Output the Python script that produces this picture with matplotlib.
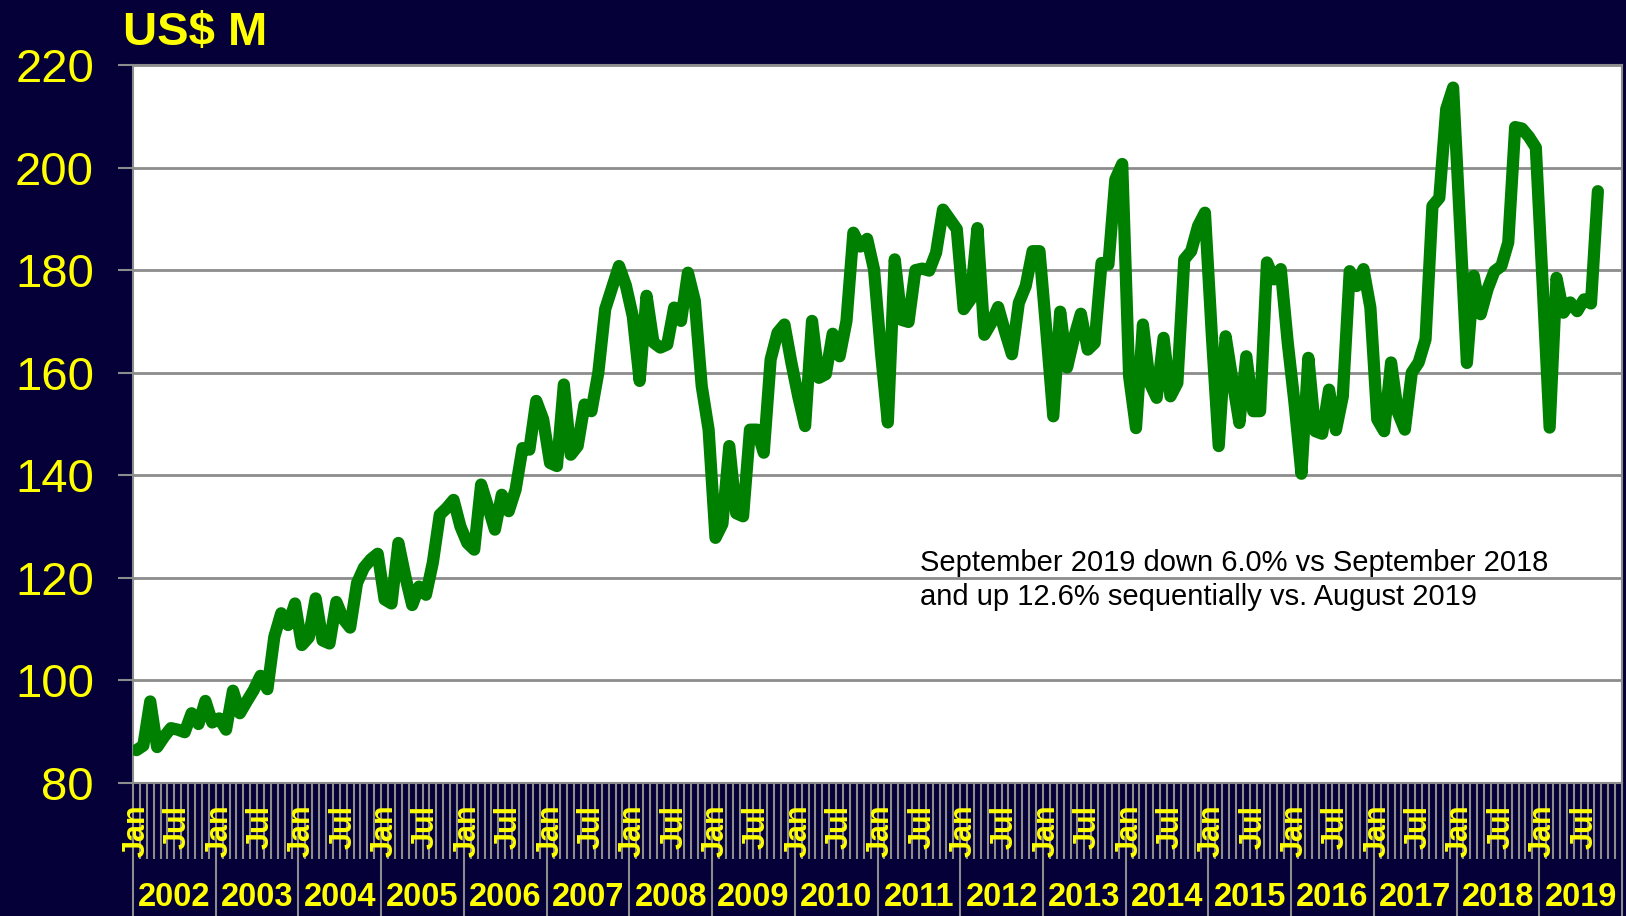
import matplotlib
matplotlib.use("Agg")
import matplotlib.pyplot as plt
import matplotlib.transforms as mtransforms

plt.rcParams['font.family'] = ['Liberation Sans', 'DejaVu Sans']

# Monthly values, US$ M, Jan 2002 .. Sep 2019
v2002 = [86.4, 87.3, 95.9, 87.0, 89.0, 90.7, 90.4, 89.9, 93.6, 91.5, 96.0, 91.8]
v2003 = [92.6, 90.4, 98.0, 93.6, 95.9, 98.1, 100.9, 98.3, 108.5, 113.1, 110.8, 115.0]
v2004 = [106.9, 108.4, 116.0, 107.8, 107.2, 115.3, 112.0, 110.3, 119.0, 122.0, 123.6, 124.7]
v2005 = [115.8, 115.0, 126.8, 120.3, 114.7, 118.3, 116.7, 123.0, 132.3, 133.6, 135.2, 130.0]
v2006 = [126.8, 125.5, 138.2, 133.9, 129.4, 136.2, 133.0, 137.2, 145.3, 145.0, 154.5, 150.9]
v2007 = [142.4, 141.8, 157.7, 144.0, 145.7, 153.8, 152.5, 160.0, 172.4, 176.6, 180.8, 177.0]
v2008 = [171.0, 158.4, 175.0, 165.9, 164.9, 165.5, 172.7, 170.1, 179.5, 174.0, 157.4, 148.9]
v2009 = [127.8, 130.5, 145.7, 132.6, 132.0, 148.9, 148.9, 144.4, 162.6, 167.8, 169.4, 162.0]
v2010 = [155.4, 149.6, 170.1, 159.0, 159.7, 167.6, 163.2, 170.1, 187.3, 184.6, 186.1, 180.1]
v2011 = [164.0, 150.3, 182.1, 170.3, 169.9, 180.0, 180.3, 179.9, 183.4, 191.8, 189.9, 188.0]
v2012 = [172.4, 174.3, 188.2, 167.4, 169.7, 172.8, 168.0, 163.6, 173.6, 176.9, 183.7, 183.7]
v2013 = [168.0, 151.5, 171.9, 161.0, 166.8, 171.5, 164.5, 165.8, 181.4, 181.1, 197.7, 200.7]
v2014 = [159.3, 149.2, 169.4, 158.0, 155.1, 166.8, 155.4, 158.0, 182.1, 183.7, 188.6, 191.2]
v2015 = [167.3, 145.7, 167.1, 158.5, 150.2, 163.2, 152.5, 152.5, 181.5, 178.2, 180.2, 166.0]
v2016 = [154.0, 140.3, 162.9, 148.6, 148.1, 156.7, 148.8, 155.4, 179.8, 176.9, 180.2, 172.7]
v2017 = [150.9, 148.6, 162.0, 152.2, 148.9, 160.0, 162.0, 166.5, 192.5, 194.1, 211.4, 215.6]
v2018 = [189.0, 161.9, 178.9, 171.4, 176.3, 179.8, 180.8, 185.4, 207.9, 207.6, 206.0, 203.9]
v2019 = [177.0, 149.3, 178.5, 171.7, 173.7, 172.0, 174.3, 173.5, 195.4]

years = [2002, 2003, 2004, 2005, 2006, 2007, 2008, 2009, 2010,
         2011, 2012, 2013, 2014, 2015, 2016, 2017, 2018, 2019]
month_labels = {0: 'Jan', 6: 'Jul'}
y_ticks = [80, 100, 120, 140, 160, 180, 200, 220]

values = (v2002 + v2003 + v2004 + v2005 + v2006 + v2007 + v2008 + v2009 + v2010
          + v2011 + v2012 + v2013 + v2014 + v2015 + v2016 + v2017 + v2018 + v2019)
n_slots = 12 * len(years)
xpos = [i + 0.5 for i in range(len(values))]

bg = '#050038'
yellow = '#FFFF00'
gray = '#8c8c8c'

fig = plt.figure(figsize=(16.26, 9.16), dpi=100, facecolor=bg)
ax = fig.add_axes([133 / 1626, 133 / 916, 1489 / 1626, 718 / 916])
ax.set_facecolor('white')

ax.plot(xpos, values, color='#008000', linewidth=8.8, solid_joinstyle='round',
        solid_capstyle='round', zorder=3)

ax.set_xlim(0, n_slots)
ax.set_ylim(80, 220)
ax.set_yticks(y_ticks)
ax.yaxis.grid(True, color=gray, linewidth=2)
ax.set_axisbelow(True)
ax.tick_params(axis='y', length=11, width=1.5, color=gray, labelsize=34,
               labelcolor=yellow, pad=17)

# month boundary ticks and long year separators
ax.set_xticks(range(0, n_slots + 1, 12))
ax.set_xticks(range(0, n_slots + 1), minor=True)
ax.tick_params(axis='x', which='major', length=96, width=1.5, color=gray,
               labelbottom=False)
ax.tick_params(axis='x', which='minor', length=55, width=1.5, color=gray)

for s in ax.spines.values():
    s.set_color(gray)
    s.set_linewidth(1.5)

trans = mtransforms.blended_transform_factory(ax.transData, ax.transAxes)
for k, yr in enumerate(years):
    for m, lab in month_labels.items():
        ax.text(12 * k + m + 0.5, -0.030, lab, transform=trans, rotation=90,
                ha='center', va='top', fontsize=22, fontweight='bold',
                color=yellow, clip_on=False)
    ax.text(12 * k + 6, -0.160, str(yr), transform=trans, ha='center',
            va='center', fontsize=23.5, fontweight='bold', color=yellow,
            clip_on=False)

fig.text(123 / 1626, 1 - 45 / 916, 'US$ M', fontsize=34, fontweight='bold',
         color=yellow, va='baseline', ha='left')

ax.text(0.5286, 0.2827,
        'September 2019 down 6.0% vs September 2018\n'
        'and up 12.6% sequentially vs. August 2019',
        transform=ax.transAxes, fontsize=21, color='black', ha='left',
        va='center', linespacing=1.3)

fig.savefig('out.png', dpi=100, facecolor=bg)
